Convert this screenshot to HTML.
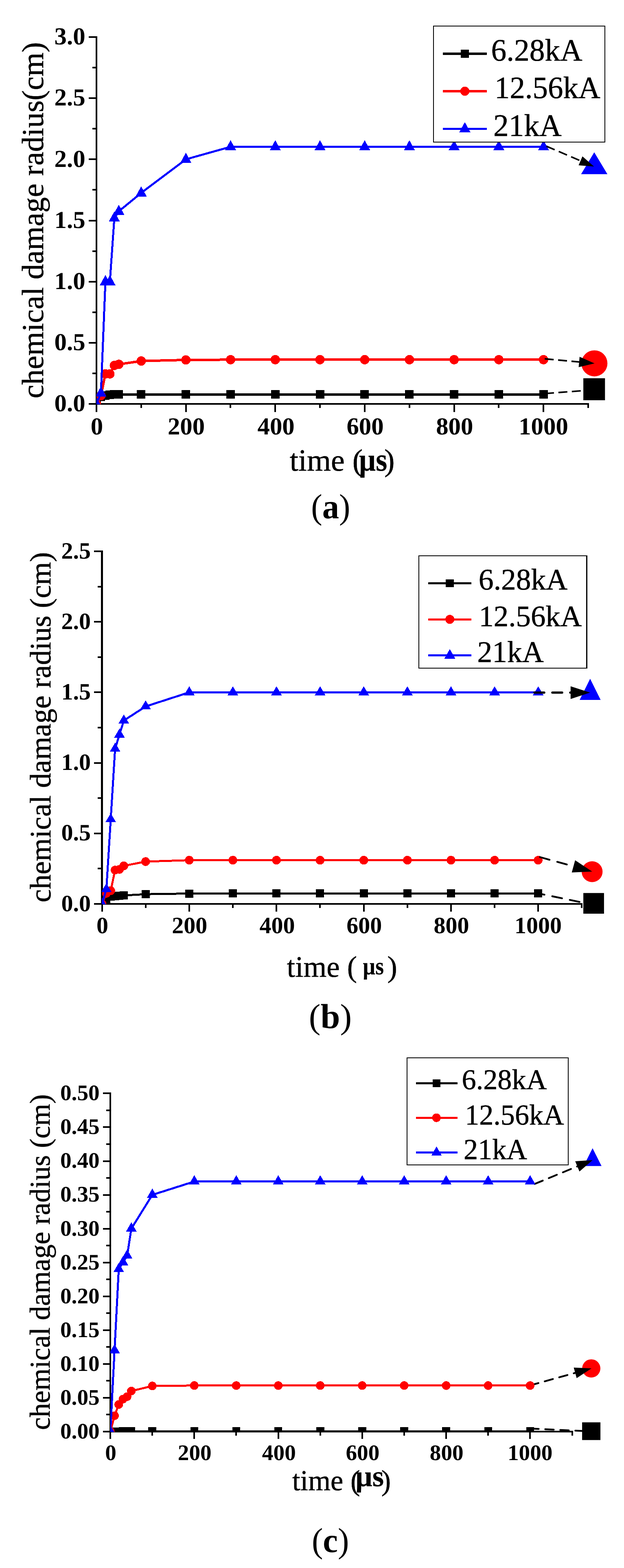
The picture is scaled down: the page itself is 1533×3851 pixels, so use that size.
<!DOCTYPE html>
<html lang="en">
<head>
<meta charset="utf-8">
<title>Chemical damage radius versus time</title>
<style>
html,body{margin:0;padding:0;background:#fff;}
body{width:1533px;height:3851px;overflow:hidden;}
svg{display:block;}
path,rect{shape-rendering:crispEdges;}
.annot path{shape-rendering:geometricPrecision;}
text{font-family:"Liberation Serif","DejaVu Serif",serif;font-size:100px;fill:#000;font-kerning:none;text-rendering:geometricPrecision;}
</style>
</head>
<body>
<svg width="1533" height="3851" viewBox="0 0 1533 3851">
<rect x="0" y="0" width="1533" height="3851" fill="#fff"/>
<g id="chart-a">
<g class="axes" stroke="#000" fill="none">
<path d="M237 88.9V994.1" stroke-width="4"/>
<path d="M235 992.1H1447.13" stroke-width="4"/>
<path d="M237 992h-19.5M237 917h-10.3M237 842h-19.5M237 767h-10.3M237 692h-19.5M237 617h-10.3M237 542h-19.5M237 466h-10.3M237 391h-19.5M237 316h-10.3M237 241h-19.5M237 166h-10.3M237 91h-19.5M237 992.1v19.5M347 992.1v10.3M457 992.1v19.5M566 992.1v10.3M676 992.1v19.5M786 992.1v10.3M896 992.1v19.5M1006 992.1v10.3M1116 992.1v19.5M1225 992.1v10.3M1335 992.1v19.5M1445 992.1v10.3" stroke-width="4"/>
</g>
<g class="ticklabels">
<text transform="matrix(0.608 0 0 0.6 133.58 1010.3)" font-weight="bold">0.0</text>
<text transform="matrix(0.608 0 0 0.6 133.58 860.1)" font-weight="bold">0.5</text>
<text transform="matrix(0.608 0 0 0.6 133.58 709.9)" font-weight="bold">1.0</text>
<text transform="matrix(0.608 0 0 0.6 133.58 559.7)" font-weight="bold">1.5</text>
<text transform="matrix(0.608 0 0 0.6 133.58 409.5)" font-weight="bold">2.0</text>
<text transform="matrix(0.608 0 0 0.6 133.58 259.3)" font-weight="bold">2.5</text>
<text transform="matrix(0.608 0 0 0.6 133.58 109.1)" font-weight="bold">3.0</text>
<text transform="matrix(0.608 0 0 0.6 222.8 1067.2)" font-weight="bold">0</text>
<text transform="matrix(0.608 0 0 0.6 411.91 1067.2)" font-weight="bold">200</text>
<text transform="matrix(0.608 0 0 0.6 632.48 1067.2)" font-weight="bold">400</text>
<text transform="matrix(0.608 0 0 0.6 851.46 1067.2)" font-weight="bold">600</text>
<text transform="matrix(0.608 0 0 0.6 1071.19 1067.2)" font-weight="bold">800</text>
<text transform="matrix(0.608 0 0 0.6 1274.21 1067.2)" font-weight="bold">1000</text>
</g>
<text class="ytitle" transform="matrix(0 -0.7575 0.7538 0 106.39 978.54)" stroke="#000" stroke-width="0.79" stroke-linejoin="round">chemical damage radius(cm)</text>
<text class="xtitle" stroke="#000" stroke-width="0.6" stroke-linejoin="round"><tspan x="711.74" y="1155.8" font-size="76">time (</tspan><tspan x="881.74" y="1155.8" font-size="80" textLength="69.51" lengthAdjust="spacingAndGlyphs" font-weight="bold" stroke-width="0.3">µs</tspan><tspan x="944.13" y="1155.8" font-size="76">)</tspan></text>
<clipPath id="clipa"><rect x="237" y="0" width="1533" height="993"/></clipPath>
<g class="data" clip-path="url(#clipa)">
<path d="M237 992.1L247.98 974.08L258.97 971.97L269.95 969.57L280.93 968.67L291.92 968.67L346.83 968.67L456.66 968.82L566.49 968.82L676.32 968.82L786.15 968.82L895.98 968.82L1005.81 968.82L1115.64 968.82L1225.47 968.82L1335.3 968.82" stroke="#000000" stroke-width="6" fill="none" stroke-linejoin="round"/>
<path d="M226.5 981.6h21v21h-21zM237.48 963.58h21v21h-21zM248.47 961.47h21v21h-21zM259.45 959.07h21v21h-21zM270.43 958.17h21v21h-21zM281.42 958.17h21v21h-21zM336.33 958.17h21v21h-21zM446.16 958.32h21v21h-21zM555.99 958.32h21v21h-21zM665.82 958.32h21v21h-21zM775.65 958.32h21v21h-21zM885.48 958.32h21v21h-21zM995.31 958.32h21v21h-21zM1105.14 958.32h21v21h-21zM1214.97 958.32h21v21h-21zM1324.8 958.32h21v21h-21z" fill="#000000"/>
<path d="M237 992.1L247.98 971.67L258.97 918.2L269.95 918.2L280.93 897.47L291.92 894.77L346.83 886.66L456.66 883.96L566.49 883.36L676.32 883.36L786.15 883.36L895.98 883.36L1005.81 883.36L1115.64 883.36L1225.47 883.36L1335.3 883.36" stroke="#ff0000" stroke-width="6" fill="none" stroke-linejoin="round"/>
<path d="M225.5 992.1a11.5 11.5 0 1 0 23 0a11.5 11.5 0 1 0 -23 0zM236.48 971.67a11.5 11.5 0 1 0 23 0a11.5 11.5 0 1 0 -23 0zM247.47 918.2a11.5 11.5 0 1 0 23 0a11.5 11.5 0 1 0 -23 0zM258.45 918.2a11.5 11.5 0 1 0 23 0a11.5 11.5 0 1 0 -23 0zM269.43 897.47a11.5 11.5 0 1 0 23 0a11.5 11.5 0 1 0 -23 0zM280.42 894.77a11.5 11.5 0 1 0 23 0a11.5 11.5 0 1 0 -23 0zM335.33 886.66a11.5 11.5 0 1 0 23 0a11.5 11.5 0 1 0 -23 0zM445.16 883.96a11.5 11.5 0 1 0 23 0a11.5 11.5 0 1 0 -23 0zM554.99 883.36a11.5 11.5 0 1 0 23 0a11.5 11.5 0 1 0 -23 0zM664.82 883.36a11.5 11.5 0 1 0 23 0a11.5 11.5 0 1 0 -23 0zM774.65 883.36a11.5 11.5 0 1 0 23 0a11.5 11.5 0 1 0 -23 0zM884.48 883.36a11.5 11.5 0 1 0 23 0a11.5 11.5 0 1 0 -23 0zM994.31 883.36a11.5 11.5 0 1 0 23 0a11.5 11.5 0 1 0 -23 0zM1104.14 883.36a11.5 11.5 0 1 0 23 0a11.5 11.5 0 1 0 -23 0zM1213.97 883.36a11.5 11.5 0 1 0 23 0a11.5 11.5 0 1 0 -23 0zM1323.8 883.36a11.5 11.5 0 1 0 23 0a11.5 11.5 0 1 0 -23 0z" fill="#ff0000"/>
<path d="M237 992.1L247.98 965.36L258.97 691.7L269.95 691.7L280.93 535.49L291.92 518.97L346.83 473.91L456.66 391.3L566.49 360.51L676.32 360.51L786.15 360.51L895.98 360.51L1005.81 360.51L1115.64 360.51L1225.47 360.51L1335.3 360.51" stroke="#0000ff" stroke-width="5" fill="none" stroke-linejoin="round"/>
<path d="M237 975.9L250.7 1000.9H223.3zM247.98 949.16L261.68 974.16H234.28zM258.97 675.5L272.67 700.5H245.27zM269.95 675.5L283.65 700.5H256.25zM280.93 519.29L294.63 544.29H267.23zM291.92 502.77L305.62 527.77H278.22zM346.83 457.71L360.53 482.71H333.13zM456.66 375.1L470.36 400.1H442.96zM566.49 344.31L580.19 369.31H552.79zM676.32 344.31L690.02 369.31H662.62zM786.15 344.31L799.85 369.31H772.45zM895.98 344.31L909.68 369.31H882.28zM1005.81 344.31L1019.51 369.31H992.11zM1115.64 344.31L1129.34 369.31H1101.94zM1225.47 344.31L1239.17 369.31H1211.77zM1335.3 344.31L1349 369.31H1321.6z" fill="#0000ff"/>
</g>
<g class="legend">
<rect x="1065" y="63.8" width="421.4" height="285.2" fill="#fff" stroke="#000" stroke-width="2.1"/>
<path d="M1087.5 132H1196" stroke="#000000" stroke-width="6"/>
<path d="M1132 122h20v20h-20z" fill="#000000"/>
<text transform="matrix(0.7541 0 0 0.769 1206.49 149.05)" stroke="#000" stroke-width="0.79" stroke-linejoin="round">6.28kA</text>
<path d="M1087.5 224H1196" stroke="#ff0000" stroke-width="6"/>
<path d="M1130.75 224a11.25 11.25 0 1 0 22.5 0a11.25 11.25 0 1 0 -22.5 0z" fill="#ff0000"/>
<text transform="matrix(0.7488 0 0 0.7648 1214.95 240.55)" stroke="#000" stroke-width="0.79" stroke-linejoin="round">12.56kA</text>
<path d="M1087.5 316H1196" stroke="#0000ff" stroke-width="5"/>
<path d="M1142 299.8L1155.7 324.8H1128.3z" fill="#0000ff"/>
<text transform="matrix(0.7553 0 0 0.7727 1211.9 333.5)" stroke="#000" stroke-width="0.79" stroke-linejoin="round">21kA</text>
</g>
<g class="annot">
<path d="M1459.9 374.1L1492.25 427.8H1427.55z" fill="#0000ff"/>
<path d="M1342.4 359.1L1428.04 395.73" stroke="#000" stroke-width="3.9" stroke-dasharray="22 11" stroke-dashoffset="0" stroke-linecap="butt" fill="none"/><path d="M1459.3 409.1L1421.48 405.98L1430.92 383.91z" fill="#000"/>
<path d="M1428.3 892.4a32 32 0 1 0 64 0a32 32 0 1 0 -64 0z" fill="#ff0000"/>
<path d="M1338.2 881.2L1424.75 889.12" stroke="#000" stroke-width="3.9" stroke-dasharray="22 11" stroke-dashoffset="0" stroke-linecap="butt" fill="none"/><path d="M1460.6 892.4L1421.6 901.63L1423.92 876.24z" fill="#000"/>
<path d="M1345 966.1L1435 959.3" stroke="#000" stroke-width="3.9" stroke-dasharray="22 11" stroke-dashoffset="6" stroke-linecap="butt" fill="none"/>
<path d="M1433.1 928.9h53.2v54h-53.2z" fill="#000000"/>
</g>
<text class="caption" transform="matrix(0.8256 0 0 0.8573 764.28 1273.48)">(<tspan font-weight="bold">a</tspan>)</text>
</g>
<g id="chart-b">
<g class="axes" stroke="#000" fill="none">
<path d="M250.6 1352V2222" stroke-width="4.8"/>
<path d="M248.2 2220H1431.47" stroke-width="4"/>
<path d="M250.6 2220h-19.3M250.6 2133h-10.3M250.6 2047h-19.3M250.6 1960h-10.3M250.6 1874h-19.3M250.6 1787h-10.3M250.6 1700h-19.3M250.6 1614h-10.3M250.6 1527h-19.3M250.6 1441h-10.3M250.6 1354h-19.3M251 2220v19.3M358 2220v10.3M465 2220v19.3M572 2220v10.3M679 2220v19.3M786 2220v10.3M894 2220v19.3M1001 2220v10.3M1108 2220v19.3M1215 2220v10.3M1322 2220v19.3M1429 2220v10.3" stroke-width="4"/>
</g>
<g class="ticklabels">
<text transform="matrix(0.58 0 0 0.576 150.38 2237.6)" font-weight="bold">0.0</text>
<text transform="matrix(0.58 0 0 0.576 150.38 2064.4)" font-weight="bold">0.5</text>
<text transform="matrix(0.58 0 0 0.576 150.38 1891.2)" font-weight="bold">1.0</text>
<text transform="matrix(0.58 0 0 0.576 150.38 1718)" font-weight="bold">1.5</text>
<text transform="matrix(0.58 0 0 0.576 150.38 1544.8)" font-weight="bold">2.0</text>
<text transform="matrix(0.58 0 0 0.576 150.38 1371.6)" font-weight="bold">2.5</text>
<text transform="matrix(0.58 0 0 0.576 237.1 2292.4)" font-weight="bold">0</text>
<text transform="matrix(0.58 0 0 0.576 422.3 2292.4)" font-weight="bold">200</text>
<text transform="matrix(0.58 0 0 0.576 637.51 2292.4)" font-weight="bold">400</text>
<text transform="matrix(0.58 0 0 0.576 851.19 2292.4)" font-weight="bold">600</text>
<text transform="matrix(0.58 0 0 0.576 1065.61 2292.4)" font-weight="bold">800</text>
<text transform="matrix(0.58 0 0 0.576 1264.07 2292.4)" font-weight="bold">1000</text>
</g>
<text class="ytitle" transform="matrix(0 -0.7292 0.7319 0 123.56 2216.33)" stroke="#000" stroke-width="0.82" stroke-linejoin="round">chemical damage radius (cm)</text>
<text class="xtitle" stroke="#000" stroke-width="0.6" stroke-linejoin="round"><tspan x="704.87" y="2399.3" font-size="73">time (</tspan> <tspan x="891.36" y="2393" font-size="60" textLength="51.65" lengthAdjust="spacingAndGlyphs" font-weight="bold" stroke-width="0.3">µs</tspan> <tspan x="951.43" y="2399.3" font-size="73">)</tspan></text>
<clipPath id="clipb"><rect x="250" y="0" width="1533" height="2221"/></clipPath>
<g class="data" clip-path="url(#clipb)">
<path d="M250.6 2220L261.32 2211.34L272.03 2201.99L282.75 2201.29L293.47 2200.26L304.19 2199.15L357.77 2196.2L464.94 2194.5L572.11 2194.19L679.28 2194.19L786.45 2194.19L893.62 2194.19L1000.79 2194.19L1107.96 2194.19L1215.13 2194.19L1322.3 2194.19" stroke="#000000" stroke-width="5" fill="none" stroke-linejoin="round"/>
<path d="M240.6 2210h20v20h-20zM251.32 2201.34h20v20h-20zM262.03 2191.99h20v20h-20zM272.75 2191.29h20v20h-20zM283.47 2190.26h20v20h-20zM294.19 2189.15h20v20h-20zM347.77 2186.2h20v20h-20zM454.94 2184.5h20v20h-20zM562.11 2184.19h20v20h-20zM669.28 2184.19h20v20h-20zM776.45 2184.19h20v20h-20zM883.62 2184.19h20v20h-20zM990.79 2184.19h20v20h-20zM1097.96 2184.19h20v20h-20zM1205.13 2184.19h20v20h-20zM1312.3 2184.19h20v20h-20z" fill="#000000"/>
<path d="M250.6 2220L261.32 2194.02L272.03 2187.44L282.75 2136.86L293.47 2135.13L304.19 2126.47L357.77 2116.08L464.94 2112.62L572.11 2112.62L679.28 2112.62L786.45 2112.62L893.62 2112.62L1000.79 2112.62L1107.96 2112.62L1215.13 2112.62L1322.3 2112.62" stroke="#ff0000" stroke-width="5" fill="none" stroke-linejoin="round"/>
<path d="M239.9 2220a10.7 10.7 0 1 0 21.4 0a10.7 10.7 0 1 0 -21.4 0zM250.62 2194.02a10.7 10.7 0 1 0 21.4 0a10.7 10.7 0 1 0 -21.4 0zM261.33 2187.44a10.7 10.7 0 1 0 21.4 0a10.7 10.7 0 1 0 -21.4 0zM272.05 2136.86a10.7 10.7 0 1 0 21.4 0a10.7 10.7 0 1 0 -21.4 0zM282.77 2135.13a10.7 10.7 0 1 0 21.4 0a10.7 10.7 0 1 0 -21.4 0zM293.49 2126.47a10.7 10.7 0 1 0 21.4 0a10.7 10.7 0 1 0 -21.4 0zM347.07 2116.08a10.7 10.7 0 1 0 21.4 0a10.7 10.7 0 1 0 -21.4 0zM454.24 2112.62a10.7 10.7 0 1 0 21.4 0a10.7 10.7 0 1 0 -21.4 0zM561.41 2112.62a10.7 10.7 0 1 0 21.4 0a10.7 10.7 0 1 0 -21.4 0zM668.58 2112.62a10.7 10.7 0 1 0 21.4 0a10.7 10.7 0 1 0 -21.4 0zM775.75 2112.62a10.7 10.7 0 1 0 21.4 0a10.7 10.7 0 1 0 -21.4 0zM882.92 2112.62a10.7 10.7 0 1 0 21.4 0a10.7 10.7 0 1 0 -21.4 0zM990.09 2112.62a10.7 10.7 0 1 0 21.4 0a10.7 10.7 0 1 0 -21.4 0zM1097.26 2112.62a10.7 10.7 0 1 0 21.4 0a10.7 10.7 0 1 0 -21.4 0zM1204.43 2112.62a10.7 10.7 0 1 0 21.4 0a10.7 10.7 0 1 0 -21.4 0zM1311.6 2112.62a10.7 10.7 0 1 0 21.4 0a10.7 10.7 0 1 0 -21.4 0z" fill="#ff0000"/>
<path d="M250.6 2220L261.32 2183.97L272.03 2012.16L282.75 1838.96L293.47 1804.32L304.19 1769.68L357.77 1735.04L464.94 1700.4L572.11 1700.4L679.28 1700.4L786.45 1700.4L893.62 1700.4L1000.79 1700.4L1107.96 1700.4L1215.13 1700.4L1322.3 1700.4" stroke="#0000ff" stroke-width="5" fill="none" stroke-linejoin="round"/>
<path d="M250.6 2205.1L263.7 2227.3H237.5zM261.32 2169.07L274.42 2191.27H248.22zM272.03 1997.26L285.13 2019.46H258.93zM282.75 1824.06L295.85 1846.26H269.65zM293.47 1789.42L306.57 1811.62H280.37zM304.19 1754.78L317.29 1776.98H291.08zM357.77 1720.14L370.87 1742.34H344.67zM464.94 1685.5L478.04 1707.7H451.84zM572.11 1685.5L585.21 1707.7H559.01zM679.28 1685.5L692.38 1707.7H666.18zM786.45 1685.5L799.55 1707.7H773.35zM893.62 1685.5L906.72 1707.7H880.52zM1000.79 1685.5L1013.89 1707.7H987.69zM1107.96 1685.5L1121.06 1707.7H1094.86zM1215.13 1685.5L1228.23 1707.7H1202.03zM1322.3 1685.5L1335.4 1707.7H1309.2z" fill="#0000ff"/>
</g>
<g class="legend">
<rect x="1029" y="1364.8" width="412.5" height="276.2" fill="#fff" stroke="#000" stroke-width="2.1"/>
<path d="M1052.1 1432.4H1157.7" stroke="#000000" stroke-width="5"/>
<path d="M1095.1 1423h20v18.8h-20z" fill="#000000"/>
<text transform="matrix(0.7353 0 0 0.7394 1175.87 1448.49)" stroke="#000" stroke-width="0.81" stroke-linejoin="round">6.28kA</text>
<path d="M1052.1 1521.2H1157.7" stroke="#ff0000" stroke-width="5"/>
<path d="M1094 1521.2a11.1 11.1 0 1 0 22.2 0a11.1 11.1 0 1 0 -22.2 0z" fill="#ff0000"/>
<text transform="matrix(0.7283 0 0 0.731 1176.43 1537.5)" stroke="#000" stroke-width="0.82" stroke-linejoin="round">12.56kA</text>
<path d="M1052.1 1609.1H1157.7" stroke="#0000ff" stroke-width="5"/>
<path d="M1105.1 1594.1L1118.7 1617.9H1091.5z" fill="#0000ff"/>
<text transform="matrix(0.7341 0 0 0.741 1172.6 1626)" stroke="#000" stroke-width="0.81" stroke-linejoin="round">21kA</text>
</g>
<g class="annot">
<path d="M1449.8 1666.9L1475.6 1718.9H1424z" fill="#0000ff"/>
<path d="M1313 1701.1L1403.8 1701.1" stroke="#000" stroke-width="5.5" stroke-dasharray="24 20" stroke-dashoffset="0" stroke-linecap="round" fill="none"/><path d="M1449.8 1701.1L1401.8 1716.7L1401.8 1685.5z" fill="#000"/>
<path d="M1429.05 2140.9a25.65 25.65 0 1 0 51.3 0a25.65 25.65 0 1 0 -51.3 0z" fill="#ff0000"/>
<path d="M1326.5 2105L1410.75 2128.24" stroke="#000" stroke-width="4.4" stroke-dasharray="24.5 19.5" stroke-dashoffset="0" stroke-linecap="round" fill="none"/><path d="M1454.8 2140.4L1404.7 2142.65L1412.94 2112.77z" fill="#000"/>
<path d="M1322 2194.1L1424.4 2215.2" stroke="#000" stroke-width="4.4" stroke-dasharray="24.5 19.5" stroke-dashoffset="8.6" stroke-linecap="round" fill="none"/>
<path d="M1433.1 2193.2h50.8v50.8h-50.8z" fill="#000000"/>
</g>
<text class="caption" transform="matrix(0.8623 0 0 0.8529 758.82 2524.78)">(<tspan font-weight="bold">b</tspan>)</text>
</g>
<g id="chart-c">
<g class="axes" stroke="#000" fill="none">
<path d="M271.1 2683.4V3517.9" stroke-width="4"/>
<path d="M269.1 3515.9H1407.53" stroke-width="4"/>
<path d="M271.1 3516h-18.2M271.1 3474h-10M271.1 3433h-18.2M271.1 3391h-10M271.1 3350h-18.2M271.1 3308h-10M271.1 3267h-18.2M271.1 3225h-10M271.1 3184h-18.2M271.1 3142h-10M271.1 3101h-18.2M271.1 3059h-10M271.1 3018h-18.2M271.1 2976h-10M271.1 2935h-18.2M271.1 2893h-10M271.1 2852h-18.2M271.1 2810h-10M271.1 2768h-18.2M271.1 2727h-10M271.1 2685h-18.2M271 3515.9v18.2M374 3515.9v10M477 3515.9v18.2M580 3515.9v10M684 3515.9v18.2M787 3515.9v10M890 3515.9v18.2M993 3515.9v10M1096 3515.9v18.2M1199 3515.9v10M1302 3515.9v18.2M1406 3515.9v10" stroke-width="4"/>
</g>
<g class="ticklabels">
<text transform="matrix(0.553 0 0 0.546 147.9 3532.8)" font-weight="bold">0.00</text>
<text transform="matrix(0.553 0 0 0.546 147.9 3449.75)" font-weight="bold">0.05</text>
<text transform="matrix(0.553 0 0 0.546 147.9 3366.7)" font-weight="bold">0.10</text>
<text transform="matrix(0.553 0 0 0.546 147.9 3283.65)" font-weight="bold">0.15</text>
<text transform="matrix(0.553 0 0 0.546 147.9 3200.6)" font-weight="bold">0.20</text>
<text transform="matrix(0.553 0 0 0.546 147.9 3117.55)" font-weight="bold">0.25</text>
<text transform="matrix(0.553 0 0 0.546 147.9 3034.5)" font-weight="bold">0.30</text>
<text transform="matrix(0.553 0 0 0.546 147.9 2951.45)" font-weight="bold">0.35</text>
<text transform="matrix(0.553 0 0 0.546 147.9 2868.4)" font-weight="bold">0.40</text>
<text transform="matrix(0.553 0 0 0.546 147.9 2785.35)" font-weight="bold">0.45</text>
<text transform="matrix(0.553 0 0 0.546 147.9 2702.3)" font-weight="bold">0.50</text>
<text transform="matrix(0.553 0 0 0.546 258.28 3585.5)" font-weight="bold">0</text>
<text transform="matrix(0.553 0 0 0.546 436.75 3585.5)" font-weight="bold">200</text>
<text transform="matrix(0.553 0 0 0.546 643.84 3585.5)" font-weight="bold">400</text>
<text transform="matrix(0.553 0 0 0.546 849.47 3585.5)" font-weight="bold">600</text>
<text transform="matrix(0.553 0 0 0.546 1055.8 3585.5)" font-weight="bold">800</text>
<text transform="matrix(0.553 0 0 0.546 1246.92 3585.5)" font-weight="bold">1000</text>
</g>
<text class="ytitle" transform="matrix(0 -0.6988 0.7077 0 121.88 3512.12)" stroke="#000" stroke-width="0.85" stroke-linejoin="round">chemical damage radius (cm)</text>
<text class="xtitle" stroke="#000" stroke-width="0.6" stroke-linejoin="round"><tspan x="718" y="3659.6" font-size="71.3" textLength="166.41" lengthAdjust="spacingAndGlyphs">time (</tspan><tspan x="872.93" y="3650.2" font-size="73" textLength="70.28" lengthAdjust="spacingAndGlyphs" font-weight="bold" stroke-width="0.3">µs</tspan><tspan x="936.81" y="3659.6" font-size="71.3" textLength="23.48" lengthAdjust="spacingAndGlyphs">)</tspan></text>
<g class="annot">
<path d="M1455.8 2820L1477.8 2863.7H1433.8z" fill="#0000ff"/>
<path d="M1313.5 2907.8L1420.2 2863.86" stroke="#000" stroke-width="4.4" stroke-dasharray="21.5 16" stroke-dashoffset="0" stroke-linecap="round" fill="none"/><path d="M1455.8 2849.2L1423.55 2877.24L1413.15 2852z" fill="#000"/>
<path d="M1430.2 3360.8a22.4 22.4 0 1 0 44.8 0a22.4 22.4 0 1 0 -44.8 0z" fill="#ff0000"/>
<path d="M1302.5 3402.4L1415.03 3371.24" stroke="#000" stroke-width="4.4" stroke-dasharray="21 16" stroke-dashoffset="0" stroke-linecap="round" fill="none"/><path d="M1453.1 3360.7L1416.68 3384.69L1409.53 3358.86z" fill="#000"/>
<path d="M1302.5 3508.5L1432 3514.5" stroke="#000" stroke-width="4.4" stroke-dasharray="21 16" stroke-dashoffset="0" stroke-linecap="round" fill="none"/>
<path d="M1430.1 3493.15h45v43.7h-45z" fill="#000000"/>
</g>
<clipPath id="clipc"><rect x="271.1" y="0" width="1533" height="3517"/></clipPath>
<g class="data" clip-path="url(#clipc)">
<path d="M271.1 3515.9L281.41 3515.9L291.73 3515.9L302.04 3515.07L312.35 3515.07L322.67 3515.07L374.23 3515.07L477.36 3515.07L580.49 3515.07L683.62 3515.07L786.75 3515.07L889.88 3515.07L993.01 3515.07L1096.14 3515.07L1199.27 3515.07L1302.4 3515.07" stroke="#000000" stroke-width="5" fill="none" stroke-linejoin="round"/>
<path d="M261.35 3506.15h19.5v19.5h-19.5zM271.66 3506.15h19.5v19.5h-19.5zM281.98 3506.15h19.5v19.5h-19.5zM292.29 3505.32h19.5v19.5h-19.5zM302.6 3505.32h19.5v19.5h-19.5zM312.92 3505.32h19.5v19.5h-19.5zM364.48 3505.32h19.5v19.5h-19.5zM467.61 3505.32h19.5v19.5h-19.5zM570.74 3505.32h19.5v19.5h-19.5zM673.87 3505.32h19.5v19.5h-19.5zM777 3505.32h19.5v19.5h-19.5zM880.13 3505.32h19.5v19.5h-19.5zM983.26 3505.32h19.5v19.5h-19.5zM1086.39 3505.32h19.5v19.5h-19.5zM1189.52 3505.32h19.5v19.5h-19.5zM1292.65 3505.32h19.5v19.5h-19.5z" fill="#000000"/>
<path d="M271.1 3515.9L281.41 3477.03L291.73 3449.46L302.04 3436.34L312.35 3430.19L322.67 3416.41L374.23 3403.95L477.36 3402.79L580.49 3402.95L683.62 3402.95L786.75 3402.95L889.88 3402.95L993.01 3402.95L1096.14 3402.95L1199.27 3402.95L1302.4 3402.95" stroke="#ff0000" stroke-width="5" fill="none" stroke-linejoin="round"/>
<path d="M260.5 3515.9a10.6 10.6 0 1 0 21.2 0a10.6 10.6 0 1 0 -21.2 0zM270.81 3477.03a10.6 10.6 0 1 0 21.2 0a10.6 10.6 0 1 0 -21.2 0zM281.13 3449.46a10.6 10.6 0 1 0 21.2 0a10.6 10.6 0 1 0 -21.2 0zM291.44 3436.34a10.6 10.6 0 1 0 21.2 0a10.6 10.6 0 1 0 -21.2 0zM301.75 3430.19a10.6 10.6 0 1 0 21.2 0a10.6 10.6 0 1 0 -21.2 0zM312.06 3416.41a10.6 10.6 0 1 0 21.2 0a10.6 10.6 0 1 0 -21.2 0zM363.63 3403.95a10.6 10.6 0 1 0 21.2 0a10.6 10.6 0 1 0 -21.2 0zM466.76 3402.79a10.6 10.6 0 1 0 21.2 0a10.6 10.6 0 1 0 -21.2 0zM569.89 3402.95a10.6 10.6 0 1 0 21.2 0a10.6 10.6 0 1 0 -21.2 0zM673.02 3402.95a10.6 10.6 0 1 0 21.2 0a10.6 10.6 0 1 0 -21.2 0zM776.15 3402.95a10.6 10.6 0 1 0 21.2 0a10.6 10.6 0 1 0 -21.2 0zM879.28 3402.95a10.6 10.6 0 1 0 21.2 0a10.6 10.6 0 1 0 -21.2 0zM982.41 3402.95a10.6 10.6 0 1 0 21.2 0a10.6 10.6 0 1 0 -21.2 0zM1085.54 3402.95a10.6 10.6 0 1 0 21.2 0a10.6 10.6 0 1 0 -21.2 0zM1188.67 3402.95a10.6 10.6 0 1 0 21.2 0a10.6 10.6 0 1 0 -21.2 0zM1291.8 3402.95a10.6 10.6 0 1 0 21.2 0a10.6 10.6 0 1 0 -21.2 0z" fill="#ff0000"/>
<path d="M271.1 3515.9L281.41 3316.58L291.73 3117.26L302.04 3100.65L312.35 3084.04L322.67 3017.6L374.23 2934.55L477.36 2901.83L580.49 2901.83L683.62 2901.83L786.75 2901.83L889.88 2901.83L993.01 2901.83L1096.14 2901.83L1199.27 2901.83L1302.4 2901.83" stroke="#0000ff" stroke-width="5" fill="none" stroke-linejoin="round"/>
<path d="M271.1 3500.3L284.25 3523.1H257.95zM281.41 3300.98L294.56 3323.78H268.26zM291.73 3101.66L304.88 3124.46H278.58zM302.04 3085.05L315.19 3107.85H288.89zM312.35 3068.44L325.5 3091.24H299.2zM322.67 3002L335.81 3024.8H309.52zM374.23 2918.95L387.38 2941.75H361.08zM477.36 2886.23L490.51 2909.03H464.21zM580.49 2886.23L593.64 2909.03H567.34zM683.62 2886.23L696.77 2909.03H670.47zM786.75 2886.23L799.9 2909.03H773.6zM889.88 2886.23L903.03 2909.03H876.73zM993.01 2886.23L1006.16 2909.03H979.86zM1096.14 2886.23L1109.29 2909.03H1082.99zM1199.27 2886.23L1212.42 2909.03H1186.12zM1302.4 2886.23L1315.55 2909.03H1289.25z" fill="#0000ff"/>
</g>
<g class="legend">
<rect x="1000.3" y="2598" width="396" height="262.8" fill="#fff" stroke="#000" stroke-width="2.1"/>
<path d="M1021.5 2660.2H1123.6" stroke="#000000" stroke-width="5"/>
<path d="M1062.7 2650.85h19.4v18.7h-19.4z" fill="#000000"/>
<text transform="matrix(0.7028 0 0 0.7042 1134.51 2675.44)" stroke="#000" stroke-width="0.85" stroke-linejoin="round">6.28kA</text>
<path d="M1021.5 2745.3H1123.6" stroke="#ff0000" stroke-width="5"/>
<path d="M1061.8 2745.3a10.6 10.6 0 1 0 21.2 0a10.6 10.6 0 1 0 -21.2 0z" fill="#ff0000"/>
<text transform="matrix(0.7008 0 0 0.7127 1142.27 2761.93)" stroke="#000" stroke-width="0.85" stroke-linejoin="round">12.56kA</text>
<path d="M1021.5 2830.2H1123.6" stroke="#0000ff" stroke-width="5"/>
<path d="M1072.4 2815.7L1085.2 2838.2H1059.6z" fill="#0000ff"/>
<text transform="matrix(0.7018 0 0 0.7194 1139.04 2847.3)" stroke="#000" stroke-width="0.84" stroke-linejoin="round">21kA</text>
</g>
<text class="caption" transform="matrix(0.825 0 0 0.8529 765.89 3811.58)">(<tspan font-weight="bold">c</tspan>)</text>
</g>
</svg>
</body>
</html>
